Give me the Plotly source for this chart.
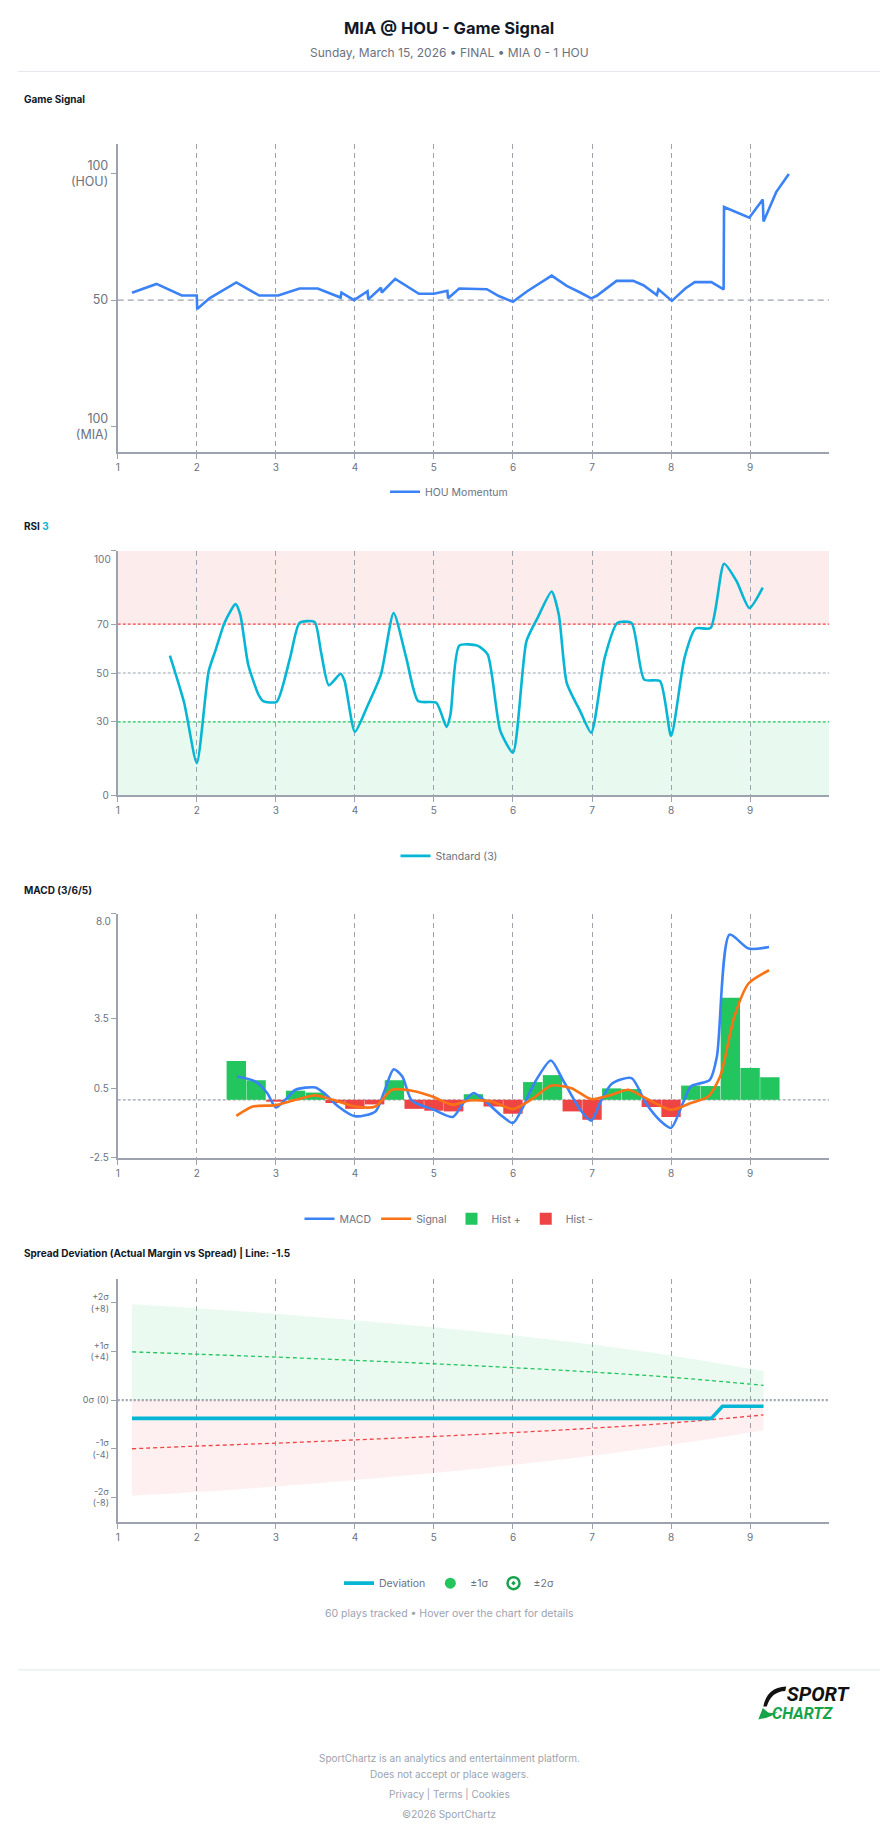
import plotly.graph_objects as go

W, H = 896, 1845
def px(x): return x / W
def py(y): return 1 - y / H

FONT = "Inter, Roboto, sans-serif"
GRAY_T = "#6b7280"
AXIS_C = "#9ca3af"

# ---------------- data ----------------
# Game Signal (HOU momentum, 0 = MIA 100, 100 = HOU 100)
mom_x = [1.18, 1.49, 1.81, 2.0, 2.005, 2.16, 2.5, 2.79, 3.03, 3.19, 3.30, 3.53, 3.82, 3.83, 3.99,
         4.16, 4.17, 4.33, 4.34, 4.51, 4.81, 5.0, 5.17, 5.18, 5.32, 5.67, 5.82, 6.0, 6.18, 6.49,
         6.68, 6.85, 6.99, 7.06, 7.31, 7.52, 7.65, 7.82, 7.84, 8.01, 8.18, 8.30, 8.51, 8.665, 8.67,
         8.99, 9.16, 9.17, 9.33, 9.49]
mom_y = [52.9, 56.4, 51.8, 51.8, 46.5, 50.7, 57.0, 51.8, 51.8, 53.3, 54.6, 54.6, 51.0, 53.0, 50.0,
         53.5, 50.3, 54.9, 53.0, 58.4, 52.5, 52.5, 53.7, 50.7, 54.6, 54.3, 51.6, 49.3, 53.5, 59.7,
         55.6, 53.0, 50.7, 51.7, 57.6, 57.6, 55.9, 52.0, 54.3, 49.7, 54.6, 57.1, 57.1, 54.2, 86.8,
         82.6, 89.8, 81.1, 92.7, 99.9]

# RSI (3)
rsi_x = [1.66, 1.84, 2.0, 2.15, 2.24, 2.35, 2.49, 2.55, 2.65, 2.78, 2.84, 3.01, 3.18, 3.30, 3.49,
         3.57, 3.67, 3.82, 3.87, 4.0, 4.15, 4.33, 4.49, 4.65, 4.80, 5.03, 5.16, 5.21, 5.32, 5.55,
         5.68, 5.84, 6.0, 6.17, 6.31, 6.49, 6.58, 6.68, 6.85, 6.99, 7.16, 7.32, 7.50, 7.66, 7.86,
         8.0, 8.17, 8.31, 8.50, 8.67, 8.83, 8.99, 9.16]
rsi_y = [57.1, 37.8, 13.1, 50.7, 59.6, 70.5, 78.2, 73.9, 53.5, 41.2, 38.5, 38.2, 56.2, 70.5, 70.9,
         58.9, 45.0, 49.7, 46.7, 25.9, 35.8, 49.4, 74.6, 56.2, 38.5, 37.8, 27.9, 33.1, 61.2, 61.2,
         57.6, 26.3, 17.4, 63.0, 72.5, 83.4, 73.9, 46.0, 34.4, 25.6, 56.2, 70.5, 70.5, 47.3, 46.7,
         24.2, 56.2, 68.2, 68.4, 94.7, 87.5, 76.6, 85.0]
rsi_ticks = [0, 30, 50, 70, 100]

# MACD (3/6/5)
macd_x = [2.51, 2.74, 2.89, 3.0, 3.12, 3.25, 3.5, 3.61, 3.79, 4.0, 4.26, 4.38, 4.49, 4.60, 4.72,
          5.0, 5.24, 5.37, 5.5, 5.63, 5.84, 6.0, 6.13, 6.27, 6.48, 6.63, 6.85, 6.99, 7.1, 7.25,
          7.50, 7.68, 7.86, 8.0, 8.15, 8.25, 8.49, 8.58, 8.74, 8.98, 9.24]
macd_y = [1.0, 0.79, 0.29, -0.33, 0.0, 0.43, 0.53, 0.29, -0.29, -0.71, -0.5, 0.43, 1.31, 1.0, -0.03,
          -0.43, -0.74, -0.14, 0.29, 0.0, -0.64, -1.0, -0.29, 0.71, 1.69, 0.86, -0.43, -0.9, -0.14, 0.69,
          0.93, -0.14, -0.89, -1.21, -0.14, 0.57, 0.86, 1.86, 7.1, 6.5, 6.57]
sig_x = [2.5, 2.71, 3.0, 3.25, 3.5, 3.72, 4.0, 4.26, 4.47, 4.72, 4.98, 5.23, 5.45, 5.73, 6.0,
         6.24, 6.49, 6.74, 6.99, 7.24, 7.46, 7.68, 8.0, 8.25, 8.47, 8.62, 8.80, 8.98, 9.24]
sig_y = [-0.69, -0.29, -0.23, 0.0, 0.19, 0.0, -0.29, -0.29, 0.43, 0.39, 0.14, -0.21, -0.03, -0.07, -0.4,
         0.03, 0.61, 0.5, 0.03, 0.21, 0.43, 0.07, -0.43, -0.14, 0.14, 1.0, 3.57, 5.0, 5.57]
hist_x = [2.5, 2.75, 3.0, 3.25, 3.5, 3.75, 4.0, 4.25, 4.5, 4.75, 5.0, 5.25, 5.5, 5.75, 6.0,
          6.25, 6.5, 6.75, 7.0, 7.25, 7.5, 7.75, 8.0, 8.25, 8.5, 8.75, 9.0, 9.25]
hist_y = [1.67, 0.84, -0.08, 0.39, 0.31, -0.14, -0.39, -0.20, 0.84, -0.39, -0.47, -0.50, 0.24, -0.29, -0.60,
          0.76, 1.06, -0.50, -0.86, 0.49, 0.46, -0.31, -0.74, 0.61, 0.59, 4.39, 1.37, 0.97]
macd_ticks = [-2.5, 0.5, 3.5, 8]

# Spread deviation
sd_x = [1.18, 2, 3, 4, 5, 6, 7, 8, 9.17]
sig1 = [3.97, 3.78, 3.54, 3.27, 2.99, 2.67, 2.31, 1.88, 1.22]
sig2 = [7.89, 7.56, 7.10, 6.56, 5.99, 5.33, 4.57, 3.67, 2.39]
sig1_neg = [-4.0, -3.78, -3.54, -3.27, -2.99, -2.67, -2.31, -1.88, -1.22]
sig2_neg = [-7.86, -7.56, -7.10, -6.56, -5.99, -5.33, -4.57, -3.67, -2.50]
dev_x = [1.18, 8.51, 8.65, 9.17]
dev_y = [-1.5, -1.5, -0.5, -0.5]
sd_tickvals = [-8, -4, 0, 4, 8]
sd_ticktext = ["-2σ<br>(-8)", "-1σ<br>(-4)", "0σ (0)", "+1σ<br>(+4)", "+2σ<br>(+8)"]

x_ticks = [1, 2, 3, 4, 5, 6, 7, 8, 9]

# ---------------- figure ----------------
fig = go.Figure()

# Panel 1
fig.add_trace(go.Scatter(x=mom_x, y=mom_y, mode="lines", name="HOU Momentum",
                         line=dict(color="#3b82f6", width=2.6), xaxis="x", yaxis="y",
                         legend="legend"))

# Panel 2 RSI
fig.add_trace(go.Scatter(x=rsi_x, y=rsi_y, mode="lines", name="Standard (3)",
                         line=dict(color="#06b6d4", width=2.6, shape="spline", smoothing=0.6),
                         xaxis="x2", yaxis="y2", legend="legend2"))

# Panel 3 MACD
hp_x = [x for x, v in zip(hist_x, hist_y) if v >= 0]
hp_y = [v for v in hist_y if v >= 0]
hn_x = [x for x, v in zip(hist_x, hist_y) if v < 0]
hn_y = [v for v in hist_y if v < 0]
fig.add_trace(go.Scatter(x=macd_x, y=macd_y, mode="lines", name="MACD",
                         line=dict(color="#3b82f6", width=2.6, shape="spline", smoothing=0.7),
                         xaxis="x3", yaxis="y3", legend="legend3"))
fig.add_trace(go.Scatter(x=sig_x, y=sig_y, mode="lines", name="Signal",
                         line=dict(color="#f97316", width=2.6, shape="spline", smoothing=0.7),
                         xaxis="x3", yaxis="y3", legend="legend3"))
fig.add_trace(go.Bar(x=hp_x, y=hp_y, width=0.245, name="Hist +", marker=dict(color="#22c55e", line=dict(width=0)),
                     xaxis="x3", yaxis="y3", legend="legend3"))
fig.add_trace(go.Bar(x=hn_x, y=hn_y, width=0.245, name="Hist -", marker=dict(color="#ef4444", line=dict(width=0)),
                     xaxis="x3", yaxis="y3", legend="legend3"))

# Panel 4 Spread deviation
fig.add_trace(go.Scatter(x=sd_x, y=sig2, mode="lines", fill="tozeroy", fillcolor="rgba(34,197,94,0.09)",
                         line=dict(width=0, shape="spline"), showlegend=False, hoverinfo="skip",
                         xaxis="x4", yaxis="y4"))
fig.add_trace(go.Scatter(x=sd_x, y=sig2_neg, mode="lines", fill="tozeroy", fillcolor="rgba(239,68,68,0.08)",
                         line=dict(width=0, shape="spline"), showlegend=False, hoverinfo="skip",
                         xaxis="x4", yaxis="y4"))
fig.add_trace(go.Scatter(x=sd_x, y=sig1, mode="lines", showlegend=False,
                         line=dict(color="#22c55e", width=1.3, dash="4px,3px", shape="spline"),
                         xaxis="x4", yaxis="y4"))
fig.add_trace(go.Scatter(x=sd_x, y=sig1_neg, mode="lines", showlegend=False,
                         line=dict(color="#ef4444", width=1.3, dash="4px,3px", shape="spline"),
                         xaxis="x4", yaxis="y4"))
fig.add_trace(go.Scatter(x=dev_x, y=dev_y, mode="lines", name="Deviation",
                         line=dict(color="#06b6d4", width=3.6),
                         xaxis="x4", yaxis="y4", legend="legend4"))
fig.add_trace(go.Scatter(x=[None], y=[None], mode="markers", name="±1σ",
                         marker=dict(symbol="circle", size=11, color="#22c55e"),
                         xaxis="x4", yaxis="y4", legend="legend4"))
fig.add_trace(go.Scatter(x=[None], y=[None], mode="markers", name="±2σ",
                         marker=dict(symbol="circle-open-dot", size=12, color="#16a34a", line=dict(width=2.5, color="#16a34a")),
                         xaxis="x4", yaxis="y4", legend="legend4"))

# ---------------- axes ----------------
XDOM = [px(116), px(829)]
def xaxis(anchor):
    return dict(domain=XDOM, range=[1, 10], tickvals=x_ticks, ticktext=[str(t) for t in x_ticks],
                showline=True, linecolor=AXIS_C, linewidth=2, ticks="outside", ticklen=5,
                tickcolor=AXIS_C, tickfont=dict(size=10, color=GRAY_T, family=FONT),
                showgrid=True, gridcolor="#9ca3af", griddash="5px,4px", gridwidth=1,
                zeroline=False, anchor=anchor, fixedrange=True)

def yaxis(anchor, dom, rng, tv, tt, size=10):
    return dict(domain=dom, range=rng, tickvals=tv, ticktext=tt, showline=True, linecolor=AXIS_C,
                linewidth=2, ticks="outside", ticklen=5, tickcolor=AXIS_C,
                tickfont=dict(size=size, color=GRAY_T, family=FONT), showgrid=False,
                zeroline=False, anchor=anchor, fixedrange=True)

fig.update_layout(
    xaxis=xaxis("y"),
    xaxis2=xaxis("y2"),
    xaxis3=xaxis("y3"),
    xaxis4=xaxis("y4"),
    yaxis=yaxis("x", [py(453.3), py(144.3)], [-10, 111.8], [0, 50, 100],
                ["100<br>(MIA)", "50", "100<br>(HOU)"], size=12.5),
    yaxis2=yaxis("x2", [py(797.7), py(552.7)], [0, 100], rsi_ticks,
                 ["0", "30", "50", "70", ""]),
    yaxis3=yaxis("x3", [py(1161.7), py(916.7)], [-2.5, 8], macd_ticks,
                 ["-2.5", "0.5", "3.5", ""]),
    yaxis4=yaxis("x4", [py(1526.7), py(1282.7)], [-10, 10], sd_tickvals, sd_ticktext, size=9),
    barmode="overlay",
    width=W, height=H,
    margin=dict(l=0, r=0, t=0, b=0),
    paper_bgcolor="white", plot_bgcolor="rgba(0,0,0,0)",
    font=dict(family=FONT, color=GRAY_T),
    hovermode="closest",
)

def leg(y):
    return dict(orientation="h", x=0.5, xanchor="center", y=py(y), yanchor="middle",
                font=dict(size=10.5, color=GRAY_T, family=FONT), bgcolor="rgba(0,0,0,0)",
                itemwidth=30, tracegroupgap=0)

fig.update_layout(legend=leg(493.3), legend2=leg(858.7), legend3=leg(1222.7), legend4=leg(1588.3))

# ---------------- shapes ----------------
shapes = []
# panel 1 50 line
shapes.append(dict(type="line", xref="x", yref="y", x0=1, x1=10, y0=50, y1=50,
                   line=dict(color="#9ca3af", width=1.2, dash="6px,4px"), layer="below"))
# RSI zones
shapes.append(dict(type="rect", xref="x2", yref="y2", x0=1, x1=10, y0=70, y1=100,
                   fillcolor="rgba(239,68,68,0.10)", line=dict(width=0), layer="below"))
shapes.append(dict(type="rect", xref="x2", yref="y2", x0=1, x1=10, y0=0, y1=30,
                   fillcolor="rgba(34,197,94,0.10)", line=dict(width=0), layer="below"))
shapes.append(dict(type="line", xref="x2", yref="y2", x0=1, x1=10, y0=70, y1=70,
                   line=dict(color="#ef4444", width=1.3, dash="3px,2px"), layer="below"))
shapes.append(dict(type="line", xref="x2", yref="y2", x0=1, x1=10, y0=50, y1=50,
                   line=dict(color="#9ca3af", width=1.2, dash="3px,2px"), layer="below"))
shapes.append(dict(type="line", xref="x2", yref="y2", x0=1, x1=10, y0=30, y1=30,
                   line=dict(color="#22c55e", width=1.3, dash="3px,2px"), layer="below"))
# MACD zero
shapes.append(dict(type="line", xref="x3", yref="y3", x0=1, x1=10, y0=0, y1=0,
                   line=dict(color="#9ca3af", width=1.2, dash="3px,2px"), layer="below"))
# spread zero
shapes.append(dict(type="line", xref="x4", yref="y4", x0=1, x1=10, y0=0, y1=0,
                   line=dict(color="#9ca3af", width=2.2, dash="2px,2px"), layer="below"))
# dividers
for yy in (71.7, 1675.3):
    shapes.append(dict(type="line", xref="paper", yref="paper", x0=px(16), x1=px(880),
                       y0=py(yy), y1=py(yy), line=dict(color="#e5e7eb", width=1)))

# logo swoosh
def path(pts_cmds):
    out = []
    for c in pts_cmds:
        if isinstance(c, str):
            out.append(c)
        else:
            out.append(f"{px(c[0]):.5f},{py(c[1]):.5f}")
    return " ".join(out)

shapes.append(dict(type="path", xref="paper", yref="paper", fillcolor="#111111", line=dict(width=0),
                   path=path(["M", (786, 1692), "Q", (767, 1692.5), (763, 1712), "L", (766.5, 1712),
                              "Q", (771, 1697), (785, 1696.5), "Z"])))
shapes.append(dict(type="path", xref="paper", yref="paper", fillcolor="#16a34a", line=dict(width=0),
                   path=path(["M", (762.5, 1713.5), "L", (758, 1725), "Q", (770, 1723.5), (778, 1717),
                              "Q", (769, 1720.5), (765.5, 1716), "Z"])))
fig.update_layout(shapes=shapes)

# ---------------- annotations ----------------
ann = []
def text(x, y, s, size, color, anchor="center", bold=False):
    ann.append(dict(xref="paper", yref="paper", x=px(x), y=py(y), xanchor=anchor, yanchor="middle",
                    text=(f"<b>{s}</b>" if bold else s), showarrow=False,
                    font=dict(size=size, color=color, family=FONT)))

text(448, 28.3, "MIA @ HOU - Game Signal", 16.5, "#111827", bold=True)
text(448, 52.3, "Sunday, March 15, 2026 • FINAL • MIA 0 - 1 HOU", 12, GRAY_T)
text(20, 100, "Game Signal", 10, "#111827", anchor="left", bold=True)
text(20, 527.3, "RSI <span style='color:#06b6d4'>3</span>", 10, "#111827", anchor="left", bold=True)
text(20, 892.7, "MACD (3/6/5)", 10, "#111827", anchor="left", bold=True)
text(20, 1257.4, "Spread Deviation (Actual Margin vs Spread) | Line: -1.5", 10, "#111827", anchor="left", bold=True)
# shifted top tick labels
text(111, 560.7, "100", 10, GRAY_T, anchor="right")
text(111, 924, "8.0", 10, GRAY_T, anchor="right")
text(448, 1618.7, "60 plays tracked • Hover over the chart for details", 10.5, "#9ca3af")
# logo (one text block, two lines)
ann.append(dict(xref="paper", yref="paper", x=px(770), y=py(1708), xanchor="left", yanchor="middle",
                align="left", showarrow=False,
                text=("<b><i><span style='font-size:20px;color:#111111'>&nbsp;&nbsp;&nbsp;SPORT</span><br>"
                      "<span style='font-size:16px;color:#16a34a'>CHARTZ</span></i></b>"),
                font=dict(size=14, color="#111111", family="Roboto, sans-serif")))
# footer
text(448, 1763.3, "SportChartz is an analytics and entertainment platform.", 10, "#9ca3af")
text(448, 1779.7, "Does not accept or place wagers.", 10, "#9ca3af")
text(448, 1799.7, "Privacy | Terms | Cookies", 10, "#9ca3af")
text(448, 1819.7, "©2026 SportChartz", 10, "#9ca3af")
fig.update_layout(annotations=ann)

fig.write_html("out.html")
